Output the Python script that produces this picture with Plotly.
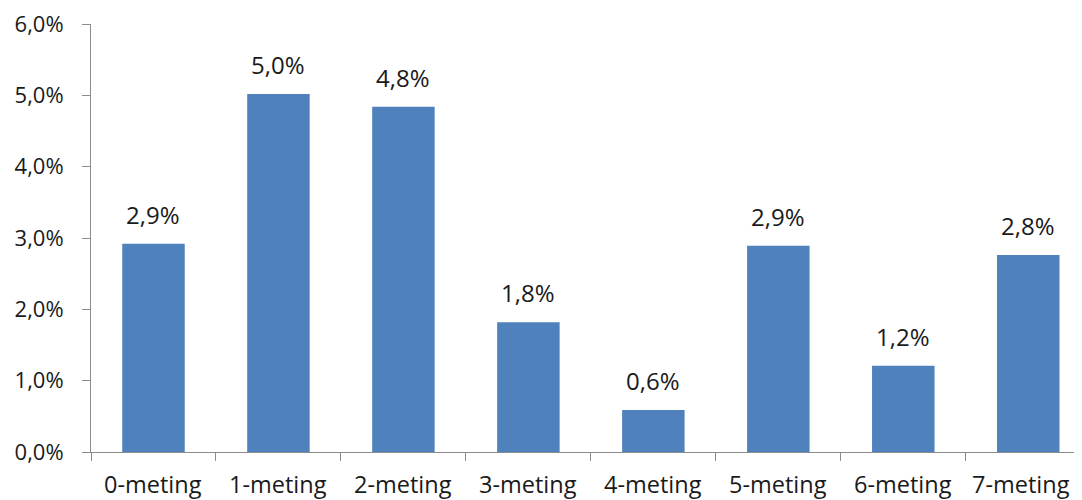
import plotly.graph_objects as go

categories = ["0-meting", "1-meting", "2-meting", "3-meting", "4-meting", "5-meting", "6-meting", "7-meting"]
values = [0.0292, 0.0502, 0.0484, 0.0182, 0.0059, 0.0289, 0.0121, 0.0276]
tick_vals = [0, 0.01, 0.02, 0.03, 0.04, 0.05, 0.06]

FONT = "Open Sans"
TXT = "#1a1a1a"
AX = "#8c8c8c"

fig = go.Figure(go.Bar(
    x=categories, y=values, width=0.5,
    marker=dict(color="#4F81BD", line=dict(width=0)),
    hoverinfo="skip",
))

# value labels above bars
for c, v in zip(categories, values):
    fig.add_annotation(
        x=c, y=v, text=f"{v*100:.1f}%".replace(".", ","),
        showarrow=False, yanchor="bottom", yshift=11,
        font=dict(family=FONT, size=24, color=TXT),
    )

# category labels (last one nudged left so it stays inside the window)
for i, c in enumerate(categories):
    fig.add_annotation(
        x=c, y=0, yref="paper", text=c, showarrow=False,
        yanchor="top", yshift=-15, borderpad=0,
        xshift=(-7 if i == len(categories) - 1 else 0),
        font=dict(family=FONT, size=23.5, color=TXT),
    )

# page body has an 8px default margin, so the figure is sized to fill the window
fig.update_layout(
    width=1074, height=492,
    margin=dict(l=83, r=0, t=16, b=48),
    paper_bgcolor="white", plot_bgcolor="white",
    separators=",.",
    showlegend=False,
    font=dict(family=FONT, size=22, color=TXT),
)
fig.update_xaxes(
    type="category", range=[-0.5, 7.43], automargin=False,
    showline=True, linecolor=AX, linewidth=1,
    ticks="outside", tickson="boundaries", ticklen=8, tickcolor=AX,
    showgrid=False, showticklabels=False,
)
fig.update_yaxes(
    range=[0, 0.06], tickvals=tick_vals, tickformat=".1%", automargin=False,
    showline=True, linecolor=AX, linewidth=1,
    ticks="outside", ticklen=8, tickcolor=AX,
    showgrid=False, zeroline=False, ticklabelstandoff=14,
    ticklabeloverflow="allow",
    tickfont=dict(family=FONT, size=22, color=TXT),
)

fig.write_html("out.html")
